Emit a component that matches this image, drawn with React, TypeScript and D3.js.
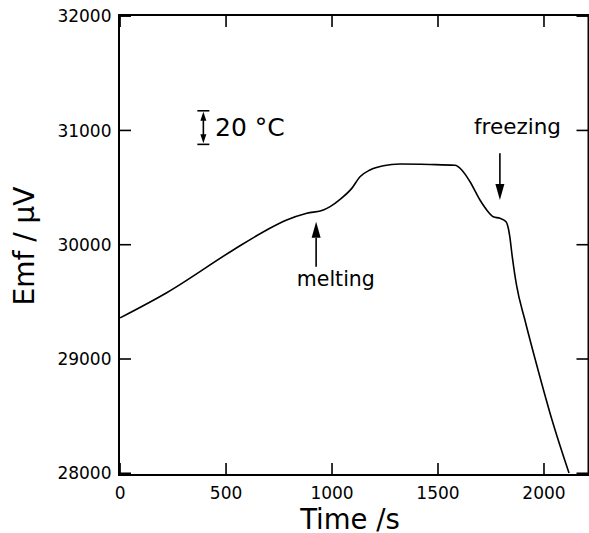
import React from "react";
import * as d3 from "d3";

const timeS = [0, 220, 534, 692, 786, 881, 959, 991, 1038, 1093, 1132, 1179, 1242, 1321, 1462, 1580, 1612, 1651, 1698, 1730, 1761, 1792, 1821, 1838, 1850, 1870, 1910, 1972, 2038, 2118];
const emfUV = [29360, 29580, 29954, 30129, 30216, 30275, 30304, 30333, 30397, 30493, 30595, 30654, 30691, 30706, 30702, 30695, 30654, 30551, 30391, 30304, 30245, 30231, 30201, 30080, 29900, 29650, 29341, 28904, 28466, 28002];

const xTicks = [0, 500, 1000, 1500, 2000];
const yTicks = [28000, 29000, 30000, 31000, 32000];

const xLabel = "Time /s";
const yLabel = "Emf / \u00b5V";

// annotations (data coordinates)
const meltArrow = { t: 925, from: 29808, to: 30201, label: "melting", labelT: 1018, labelE: 29639 };
const freezeArrow = { t: 1792, from: 30800, to: 30391, label: "freezing", labelT: 1875, labelE: 30969 };
const scaleBar = { t: 393, lo: 30878, hi: 31172, label: "20 \u00b0C", labelT: 448, labelE: 30954 };

const W = 589;
const H = 533;
const M = { left: 119, right: 588.5, top: 15, bottom: 475 };
const FONT = "'DejaVu Sans', sans-serif";

export default function App() {
  const x = d3.scaleLinear().domain([-5, 2210]).range([M.left, M.right]);
  const y = d3.scaleLinear().domain([27985, 32010]).range([M.bottom, M.top]);

  const pts: [number, number][] = timeS.map((t, i) => [t, emfUV[i]]);
  const line = d3
    .line<[number, number]>()
    .x((d) => x(d[0]))
    .y((d) => y(d[1]))
    .curve(d3.curveMonotoneX);

  const tick = 12;

  const arrow = (a: typeof meltArrow, up: boolean) => {
    const ax = x(a.t);
    const y0 = y(a.from);
    const y1 = y(a.to);
    const hl = 16;
    const hw = 4.5;
    const dir = up ? 1 : -1; // up: tip above
    const base = y1 + dir * hl;
    return (
      <g>
        <line x1={ax} x2={ax} y1={y0} y2={base} stroke="#000" strokeWidth={1.6} />
        <path d={`M${ax},${y1} L${ax - hw},${base} L${ax + hw},${base} Z`} fill="#000" />
      </g>
    );
  };

  const sx = x(scaleBar.t);
  const sTop = y(scaleBar.hi);
  const sBot = y(scaleBar.lo);

  return (
    <svg width={W} height={H} style={{ position: "absolute", left: 0, top: 0, background: "#fff" }} fontFamily={FONT}>
      <rect x={0} y={0} width={W} height={H} fill="#fff" />
      {/* curve */}
      <path d={line(pts) || ""} fill="none" stroke="#000" strokeWidth={1.6} strokeLinejoin="round" />

      {/* ticks */}
      {xTicks.map((t) => (
        <g key={"xt" + t}>
          <line x1={x(t)} x2={x(t)} y1={M.bottom} y2={M.bottom - tick} stroke="#000" strokeWidth={1.6} />
          <line x1={x(t)} x2={x(t)} y1={M.top} y2={M.top + tick} stroke="#000" strokeWidth={1.6} />
          <text x={x(t)} y={499} textAnchor="middle" fontSize={17} fill="#000">
            {t}
          </text>
        </g>
      ))}
      {yTicks.map((v) => (
        <g key={"yt" + v}>
          <line x1={M.left} x2={M.left + tick} y1={y(v)} y2={y(v)} stroke="#000" strokeWidth={1.6} />
          <line x1={M.right} x2={M.right - tick} y1={y(v)} y2={y(v)} stroke="#000" strokeWidth={1.6} />
          <text x={111.5} y={y(v)} dy="0.36em" textAnchor="end" fontSize={17} fill="#000">
            {v}
          </text>
        </g>
      ))}

      {/* frame */}
      <rect x={M.left} y={M.top} width={M.right - M.left} height={M.bottom - M.top} fill="none" stroke="#000" strokeWidth={2} />

      {/* axis labels */}
      <text x={350} y={528.5} textAnchor="middle" fontSize={27.5} fill="#000">
        {xLabel}
      </text>
      <text
        transform={`translate(33.5,${246}) rotate(-90)`}
        textAnchor="middle"
        fontSize={28}
        fill="#000"
      >
        {yLabel}
      </text>

      {/* melting */}
      {arrow(meltArrow, true)}
      <text x={x(meltArrow.labelT)} y={y(meltArrow.labelE)} textAnchor="middle" fontSize={20.5} fill="#000">
        {meltArrow.label}
      </text>

      {/* freezing */}
      {arrow(freezeArrow, false)}
      <text x={x(freezeArrow.labelT)} y={y(freezeArrow.labelE)} textAnchor="middle" fontSize={21.5} fill="#000">
        {freezeArrow.label}
      </text>

      {/* scale bar */}
      <g stroke="#000" strokeWidth={1.6}>
        <line x1={sx - 6} x2={sx + 6} y1={sTop} y2={sTop} />
        <line x1={sx - 6} x2={sx + 6} y1={sBot} y2={sBot} />
        <line x1={sx} x2={sx} y1={sTop + 8} y2={sBot - 8} />
      </g>
      <path d={`M${sx},${sTop + 1} L${sx - 3},${sTop + 10} L${sx + 3},${sTop + 10} Z`} fill="#000" />
      <path d={`M${sx},${sBot - 1} L${sx - 3},${sBot - 10} L${sx + 3},${sBot - 10} Z`} fill="#000" />
      <text x={x(scaleBar.labelT)} y={y(scaleBar.labelE)} fontSize={25} fill="#000">
        {scaleBar.label}
      </text>
    </svg>
  );
}
